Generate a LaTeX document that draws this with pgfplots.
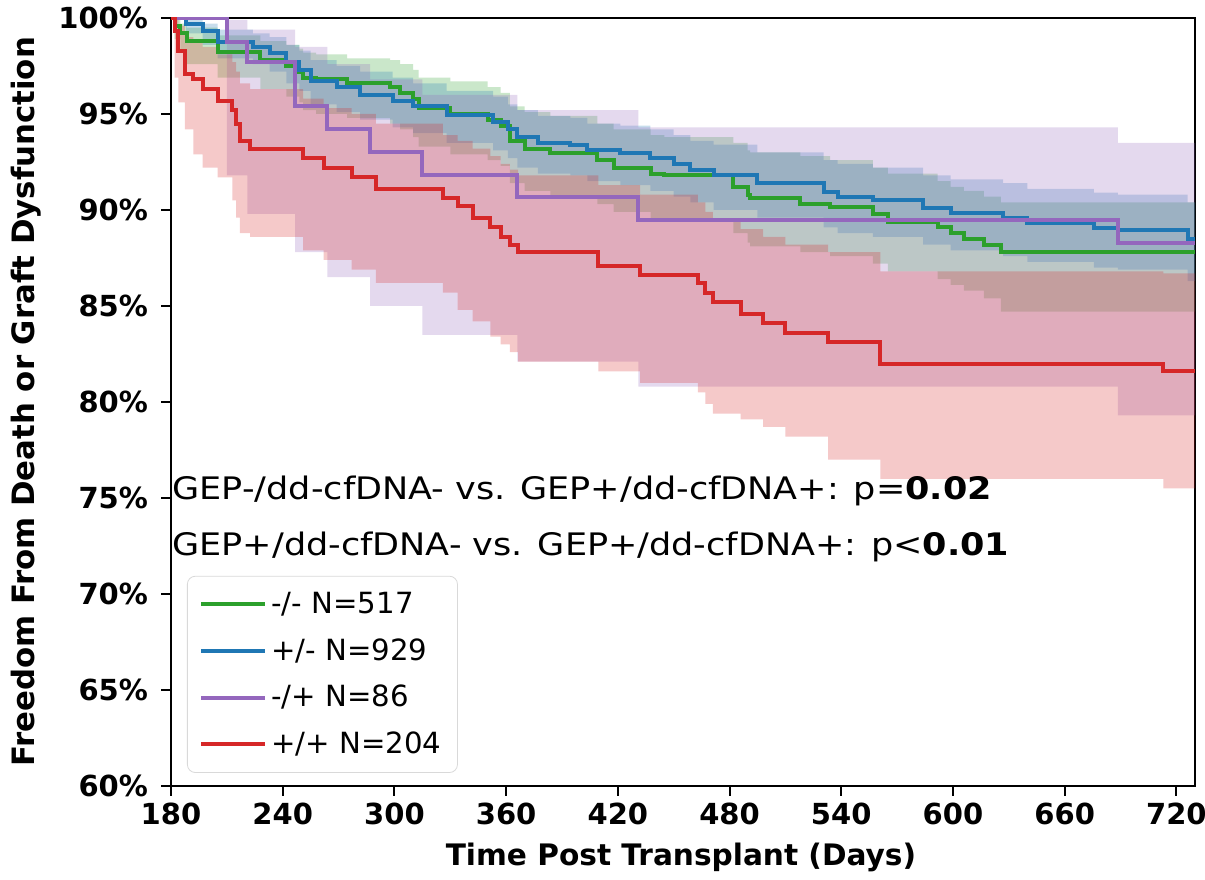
\documentclass[border=0pt]{standalone}
\usepackage{fontspec}
\setmainfont{DejaVu Sans}
\usepackage{pgfplots}
\usepackage{pgfplotstable}
\pgfplotsset{compat=1.18}
\usepgfplotslibrary{fillbetween}

\definecolor{cG}{HTML}{2CA02C}
\definecolor{cB}{HTML}{1F77B4}
\definecolor{cP}{HTML}{9467BD}
\definecolor{cR}{HTML}{D62728}

\pgfplotstableread{
x y lo hi
180 100 100 100
182 99.6 98.9 99.9
185 99.2 98.2 99.7
188.4 98.8 97.6 99.5
205 98.25 96.9 99.1
228 97.8 96.3 98.8
242 97.5 95.9 98.6
249 97.2 95.6 98.4
251 96.9 95.2 98.2
258 96.8 95.0 98.1
274.6 96.6 94.8 97.9
297.7 96.4 94.5 97.8
303 96.1 94.2 97.6
310 95.8 93.8 97.3
313 95.3 93.3 96.9
330 95.0 92.9 96.7
350 94.7 92.6 96.4
357 94.4 92.3 96.1
362 93.6 91.4 95.4
370 93.2 91.0 95.1
383.8 92.95 90.7 94.9
409 92.6 90.3 94.5
417.7 92.2 89.9 94.2
437.6 91.9 89.5 93.9
445 91.8 89.4 93.8
482 91.2 88.8 93.5
489.7 90.8 88.3 93.1
491 90.6 88.1 93.0
518 90.3 87.8 92.8
534 90.15 87.6 92.6
557 89.8 87.2 92.2
565 89.4 86.8 91.9
591.8 89.1 86.4 91.5
598.8 88.8 86.1 91.2
605.8 88.5 85.8 91.0
616.6 88.2 85.4 90.7
625.7 87.8 84.7 90.4
730 87.8 84.7 90.4
}\green

\pgfplotstableread{
x y lo hi
180 100 100 100
188 99.7 99.2 99.9
197 99.3 98.6 99.7
205 98.75 97.9 99.4
224 98.5 97.6 99.2
233 98.2 97.2 99.0
242 97.7 96.6 98.6
249 97.3 96.2 98.3
255 96.7 95.5 97.8
269 96.4 95.1 97.5
281.6 96.0 94.7 97.2
299 95.7 94.3 96.9
310 95.4 94.0 96.6
328 94.95 93.5 96.2
353 94.6 93.1 95.9
361 94.2 92.7 95.5
366 93.8 92.2 95.2
377 93.5 91.9 94.9
394.5 93.4 91.8 94.8
403.6 93.1 91.5 94.5
421.4 92.95 91.3 94.4
437.5 92.7 91.0 94.2
450 92.4 90.7 93.9
459 92.1 90.4 93.6
471.4 91.8 90.0 93.4
495 91.4 89.6 93.0
530.5 90.95 89.1 92.6
538 90.7 88.8 92.4
557 90.5 88.6 92.2
584 90.1 88.2 91.8
598.8 89.85 87.9 91.6
627 89.6 87.6 91.4
640 89.3 87.3 91.1
675.7 89.05 87.0 90.9
688.6 88.95 86.9 90.8
726 88.5 86.3 90.4
730 88.5 86.3 90.4
}\blue

\pgfplotstableread{
x y lo hi
180 100 100 100
210 98.75 91.8 99.9
221 97.7 89.8 99.4
246.7 95.4 87.8 98.5
264 94.2 86.5 97.6
287 93.0 85.0 96.8
315 91.8 83.5 96.0
366 90.7 82.1 95.2
431 89.5 80.8 94.3
688.6 88.3 79.3 93.5
730 88.3 79.3 93.5
}\purple

\pgfplotstableread{
x y lo hi
180 100 100 100
182 99.3 96.9 99.9
184 98.3 95.6 99.6
187.5 97.1 94.2 99.0
192 96.8 92.9 98.8
197 96.3 92.2 98.5
205 95.7 91.7 98.1
213 95.2 90.5 97.7
215 94.5 89.6 97.2
217 93.6 88.8 96.6
222.5 93.2 88.6 96.3
251 92.7 87.9 95.8
262 92.2 87.4 95.3
277 91.7 86.9 95.0
290 91.1 86.2 94.5
326 90.6 85.7 93.9
334 90.2 84.8 93.6
342 89.6 84.2 93.2
351.5 89.1 83.4 92.8
357 88.6 83.0 92.4
362 88.2 82.6 92.1
366.5 87.8 82.1 91.8
409.6 87.1 81.6 91.3
432 86.6 81.0 90.8
463 86.2 80.5 90.4
467 85.7 79.9 89.9
471 85.2 79.4 89.5
486 84.6 79.1 89.0
498 84.1 78.7 88.6
510 83.6 78.2 88.2
533 83.1 77.0 87.8
561 82.0 76.0 86.8
713 81.6 75.5 86.7
730 81.6 75.5 86.7
}\red

\begin{document}
\begin{tikzpicture}
\begin{axis}[
  scale only axis, width=512pt, height=384pt,
  xmin=180, xmax=730, ymin=60, ymax=100,
  xtick={180,240,...,720}, ytick={60,65,...,100},
  tick pos=left, tick align=outside, major tick length=5pt,
  tick style={black, line width=1pt},
  axis line style={line width=1.2pt},
  tick label style={font=\fontsize{14.5}{16}\selectfont\bfseries},
  yticklabel style={xshift=-3pt},
  yticklabel={\pgfmathprintnumber[assume math mode=true]{\tick}\%},
  xticklabel={\pgfmathprintnumber[assume math mode=true]{\tick}},
  xlabel={Time Post Transplant (Days)},
  ylabel={Freedom From Death or Graft Dysfunction},
  xlabel style={font=\fontsize{14.8}{17}\selectfont\bfseries, at={(axis description cs:0.498,0)}, anchor=center, yshift=-35.5pt},
  ylabel style={font=\fontsize{15.4}{17}\selectfont\bfseries, at={(axis description cs:-0.1416,0.5)}, anchor=center},
  legend cell align=left,
  legend image code/.code={\draw[#1] (0pt,0pt) -- (32pt,0pt);},
  legend style={at={(rel axis cs:0.0156,0.017)}, anchor=south west,
    draw=black!15, rounded corners=4pt, fill=white, fill opacity=0.8, text opacity=1,
    font=\fontsize{14.6}{17}\selectfont, row sep=7pt, inner xsep=6pt, inner ysep=6pt},
]
\coordinate (bl) at (rel axis cs:0,0);
\coordinate (tr) at (rel axis cs:1,1);
% bands
\addplot[name path=gL, const plot, draw=none, forget plot] table[x=x,y=lo]{\green};
\addplot[name path=gH, const plot, draw=none, forget plot] table[x=x,y=hi]{\green};
\addplot[fill=cG, fill opacity=0.25, draw=none, forget plot] fill between[of=gL and gH];
\addplot[name path=bL, const plot, draw=none, forget plot] table[x=x,y=lo]{\blue};
\addplot[name path=bH, const plot, draw=none, forget plot] table[x=x,y=hi]{\blue};
\addplot[fill=cB, fill opacity=0.25, draw=none, forget plot] fill between[of=bL and bH];
\addplot[name path=pL, const plot, draw=none, forget plot] table[x=x,y=lo]{\purple};
\addplot[name path=pH, const plot, draw=none, forget plot] table[x=x,y=hi]{\purple};
\addplot[fill=cP, fill opacity=0.25, draw=none, forget plot] fill between[of=pL and pH];
\addplot[name path=rL, const plot, draw=none, forget plot] table[x=x,y=lo]{\red};
\addplot[name path=rH, const plot, draw=none, forget plot] table[x=x,y=hi]{\red};
\addplot[fill=cR, fill opacity=0.25, draw=none, forget plot] fill between[of=rL and rH];
% lines
\addplot[cG, line width=2pt, const plot] table[x=x,y=y]{\green};
\addlegendentry{-/- N=517}
\addplot[cB, line width=2pt, const plot] table[x=x,y=y]{\blue};
\addlegendentry{+/- N=929}
\addplot[cP, line width=2pt, const plot] table[x=x,y=y]{\purple};
\addlegendentry{-/+ N=86}
\addplot[cR, line width=2pt, const plot] table[x=x,y=y]{\red};
\addlegendentry{+/+ N=204}
\node[anchor=base west, font=\fontsize{15.5}{18}\selectfont, inner sep=0pt] at (axis cs:180.6,74.9) {\scalebox{1.13}[1]{GEP-/dd-cfDNA- vs. GEP+/dd-cfDNA+: p=\textbf{0.02}}};
\node[anchor=base west, font=\fontsize{15.5}{18}\selectfont, inner sep=0pt] at (axis cs:180.6,72.0) {\scalebox{1.13}[1]{GEP+/dd-cfDNA- vs. GEP+/dd-cfDNA+: p<\textbf{0.01}}};
\end{axis}
\pgfresetboundingbox
\path[use as bounding box] ([shift={(-85.5pt,-47pt)}]bl) rectangle ([shift={(5pt,9pt)}]tr);
\end{tikzpicture}
\end{document}
